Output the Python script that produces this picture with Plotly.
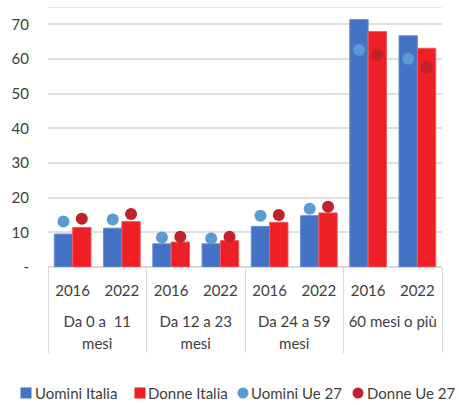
import plotly.graph_objects as go

groups = ["Da 0 a  11|mesi", "Da 12 a 23|mesi", "Da 24 a 59|mesi", "60 mesi o più"]
years = ["2016", "2022"]
uomini_italia = [9.5, 11.2, 6.7, 6.7, 11.7, 14.8, 71.4, 66.7]
donne_italia = [11.4, 13.1, 7.2, 7.6, 12.9, 15.6, 67.9, 63.1]
uomini_ue = [13.1, 13.7, 8.5, 8.2, 14.8, 16.8, 62.6, 60.1]
donne_ue = [13.9, 15.3, 8.7, 8.7, 15.0, 17.4, 61.2, 57.6]
y_ticks = [0, 10, 20, 30, 40, 50, 60, 70]
y_ticktext = ["-", "10", "20", "30", "40", "50", "60", "70"]
legend_names = ["Uomini Italia", "Donne Italia", "Uomini Ue 27", "Donne Ue 27"]
legend_colors = ["#4472C4", "#EE1F25", "#5B9BD5", "#C0212B"]


def lbl(s):
    return "<br>".join("<span style='font-size:15px'>%s</span>" % p for p in s.split("|"))


group_lbl = ["<br>" + lbl(g) for g in groups]
year_lbl = [lbl(y) for y in years]
x = [[g for g in group_lbl for _ in year_lbl], [y for _ in group_lbl for y in year_lbl]]

fig = go.Figure()
fig.add_trace(go.Bar(x=x, y=uomini_italia, name=legend_names[0], marker_color=legend_colors[0],
                     marker_line=dict(color="#6A8FD3", width=1), offsetgroup="a"))
fig.add_trace(go.Bar(x=x, y=donne_italia, name=legend_names[1], marker_color=legend_colors[1],
                     marker_line=dict(color="#F25A5E", width=1), offsetgroup="b"))
fig.add_trace(go.Scatter(x=x, y=uomini_ue, name=legend_names[2], mode="markers",
                         marker=dict(color=legend_colors[2], size=12), offsetgroup="a"))
fig.add_trace(go.Scatter(x=x, y=donne_ue, name=legend_names[3], mode="markers",
                         marker=dict(color=legend_colors[3], size=12), offsetgroup="b"))

# plot area geometry (pixels) used to place a compact custom legend
W, H = 459, 405
L, R, T, B = 48, 17, 7, 138
pw, ph = W - L - R, H - T - B


def px_x(px):
    return (px - L) / pw


def px_y(py):
    return (H - B - py) / ph


leg_y = 393
sym_x = [26, 140, 243, 358]
txt_x = [33, 146, 249, 365]
shapes = [dict(type="line", xref="paper", yref="y", x0=0, x1=1, y0=75, y1=75,
               line=dict(color="#E0E0E0", width=1.5))]
annotations = []
for i, (nm, col) in enumerate(zip(legend_names, legend_colors)):
    shapes.append(dict(type="rect" if i < 2 else "circle", xref="paper", yref="paper",
                       x0=px_x(sym_x[i] - 5.5), x1=px_x(sym_x[i] + 5.5),
                       y0=px_y(leg_y + 5.5), y1=px_y(leg_y - 5.5),
                       fillcolor=col, line=dict(width=0)))
    annotations.append(dict(text=nm, xref="paper", yref="paper", x=px_x(txt_x[i]), y=px_y(leg_y),
                            xanchor="left", yanchor="middle", showarrow=False,
                            font=dict(size=15, color="#404040")))

font = "Lato, 'Open Sans', sans-serif"
fig.update_layout(
    width=W, height=H,
    margin=dict(l=L, r=R, t=T, b=B),
    paper_bgcolor="white", plot_bgcolor="white",
    barmode="group", bargap=0.255, bargroupgap=0,
    scattermode="group", scattergap=0.255,
    font=dict(family=font, size=14, color="#404040"),
    showlegend=False,
    shapes=shapes,
    annotations=annotations,
)
fig.update_yaxes(range=[0, 75], tickvals=y_ticks, ticktext=y_ticktext, automargin=False,
                 gridcolor="#E0E0E0", gridwidth=1.5, zeroline=True, zerolinecolor="#D9D9D9",
                 zerolinewidth=1.5, showline=False, ticks="", ticklabelstandoff=18,
                 tickfont=dict(size=15, color="#404040"))
fig.update_xaxes(type="multicategory", showline=False, showgrid=False, automargin=False,
                 showdividers=True, dividercolor="#D9D9D9", dividerwidth=1,
                 ticklabelstandoff=11,
                 tickfont=dict(size=17, color="#404040"))

fig.write_html("out.html", post_script="document.body.style.margin='0';",
               config={"displayModeBar": False})
